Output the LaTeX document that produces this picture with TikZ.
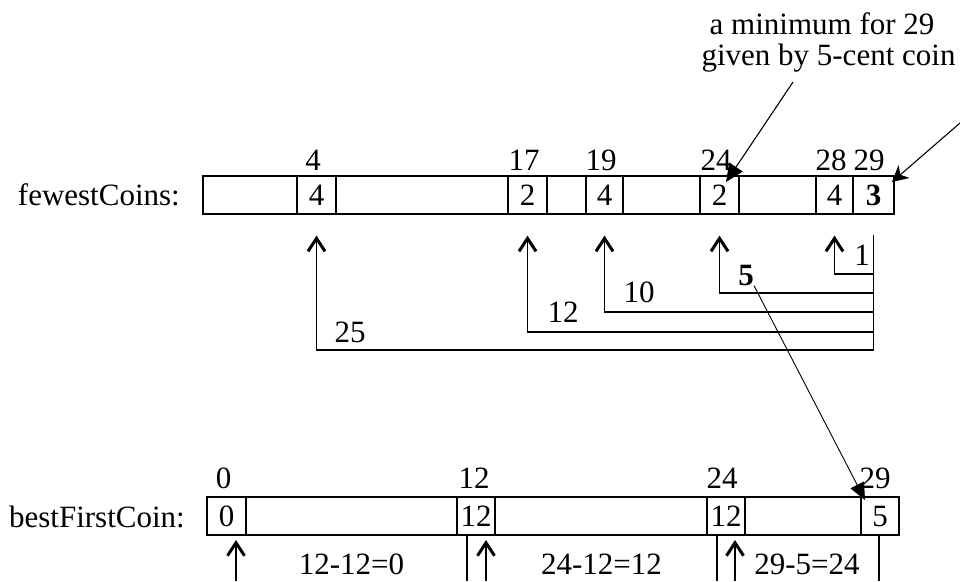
\documentclass[tikz,border=0pt]{standalone}
\usepackage{fontspec}
\setmainfont{Liberation Serif}
\usetikzlibrary{arrows.meta,calc}
\begin{document}
\begin{tikzpicture}[x=1pt,y=-1pt,
  every node/.style={font=\fontsize{31}{34}\selectfont, inner sep=0pt},
  box/.style={draw, line width=1.2pt, minimum height=38pt},
  conn/.style={line width=1.3pt},
  upar/.style={conn, -{Straight Barb[length=13pt,width=17pt,line width=3pt]}},
  notear/.style={line width=1.1pt, -{Triangle[length=18pt,width=16pt]}},
  stealthar/.style={line width=1.1pt, -{Stealth[length=16pt,width=17pt,inset=5pt]}},
  thinar/.style={line width=0.9pt, -{Triangle[length=17pt,width=15pt]}},
  lab/.style={anchor=base}]
\useasboundingbox (0,0) rectangle (960,581);

% ---------- fewestCoins array ----------
\node[anchor=base east] (fcl) at (180,205) {fewestCoins:};
\node[box, minimum width=691pt] (fc) at (548.5,195) {};
\node[box, minimum width=39pt] (c4)  at (316.5,195) {4};
\node[box, minimum width=39pt] (c17) at (527.5,195) {2};
\node[box, minimum width=37pt] (c19) at (604.5,195) {4};
\node[box, minimum width=39pt] (c24) at (719.5,195) {2};
\node[box, minimum width=37pt] (c28) at (834.5,195) {4};
\node[box, minimum width=41pt] (c29) at (873.5,195) {\textbf{3}};

\node[lab] (i4)  at (313,170) {4};
\node[lab] (i17) at (524,170) {17};
\node[lab] (i19) at (601,170) {19};
\node[lab] (i24) at (716,170) {24};
\node[lab] (i28) at (831,170) {28};
\node[lab] (i29) at (869,170) {29};

% ---------- note ----------
\node[lab] (note1) at (822,34) {a minimum for 29};
\node[lab] (note2) at (828.5,65) {given by 5-cent coin};
\coordinate (n1) at (793,82);
\coordinate (p24) at (726,182);
\draw[notear] (n1) -- (p24);
\coordinate (edge) at (960,123);
\coordinate (p29) at (892,182);
\draw[stealthar] (edge) -- (p29);

% ---------- connectors under fewestCoins ----------
\coordinate (rt) at (873.5,235);
\coordinate (rb) at (873.5,350);
\draw[conn] (rt) -- (rb);
\coordinate (t4)  at ($(c4.south)+(0,21)$);
\coordinate (t17) at ($(c17.south)+(0,21)$);
\coordinate (t19) at ($(c19.south)+(0,21)$);
\coordinate (t24) at ($(c24.south)+(0,21)$);
\coordinate (t28) at ($(c28.south)+(0,21)$);
\coordinate (j1)  at (873.5,274);
\coordinate (j5)  at (873.5,293);
\coordinate (j10) at (873.5,312);
\coordinate (j12) at (873.5,332);
\coordinate (j25) at (873.5,350);
\draw[upar] (j1)  -| (t28);
\draw[upar] (j5)  -| (t24);
\draw[upar] (j10) -| (t19);
\draw[upar] (j12) -| (t17);
\draw[upar] (j25) -| (t4);

\node[lab] (l1)  at (862,265) {1};
\node[lab] (l5)  at (746,285) {\textbf{5}};
\node[lab] (l10) at (639,302) {10};
\node[lab] (l12) at (563,322) {12};
\node[lab] (l25) at (350,342) {25};

% ---------- bestFirstCoin array ----------
\node[anchor=base east] (bfl) at (185,527) {bestFirstCoin:};
\node[box, minimum width=692pt] (bf) at (553,516) {};
\node[box, minimum width=39pt] (b0)  at (226.5,516) {0};
\node[box, minimum width=38pt] (b12) at (476,516) {12};
\node[box, minimum width=38pt] (b24) at (726,516) {12};
\node[box, minimum width=38pt] (b29) at (880,516) {5};

\node[lab] (k0)  at (223.5,488) {0};
\node[lab] (k12) at (474,488) {12};
\node[lab] (k24) at (722,488) {24};
\node[lab] (k29) at (875,488) {29};

\coordinate (q29) at (865,500);
\draw[thinar] (l5.south east) -- (q29);

% ---------- connectors under bestFirstCoin ----------
\coordinate (a0t) at (236,540);  \coordinate (a0b) at (236,581);
\coordinate (a1t) at (486,540);  \coordinate (a1b) at (486,581);
\coordinate (a2t) at (735,540);  \coordinate (a2b) at (735,581);
\coordinate (m1t) at (467,535);  \coordinate (m1b) at (467,581);
\coordinate (m2t) at (717,535);  \coordinate (m2b) at (717,581);
\coordinate (m3t) at (879,535);  \coordinate (m3b) at (879,581);
\draw[upar] (a0b) -- (a0t);
\draw[upar] (a1b) -- (a1t);
\draw[upar] (a2b) -- (a2t);
\draw[conn] (m1t) -- (m1b);
\draw[conn] (m2t) -- (m2b);
\draw[conn] (m3t) -- (m3b);

\node[lab] (d1) at (351.5,574) {12-12=0};
\node[lab] (d2) at (601.5,574) {24-12=12};
\node[lab] (d3) at (807,574) {29-5=24};
\end{tikzpicture}
\end{document}
